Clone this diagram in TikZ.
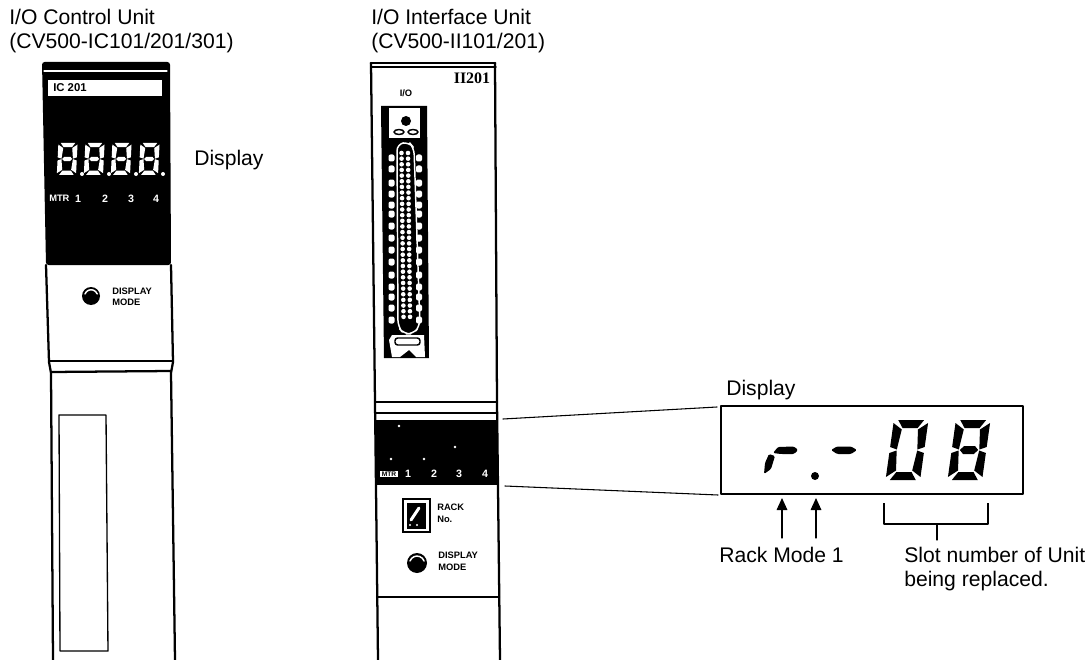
\documentclass[tikz,border=0pt]{standalone}
\usepackage{fontspec}
\setmainfont{Liberation Sans}
\newfontfamily\tagfont{Liberation Serif}
\usetikzlibrary{arrows.meta}
\def\pxsz{0.75pt}
\tikzset{
  caption/.style={anchor=base west, inner sep=0pt, font=\fontsize{15.85}{19}\selectfont},
  tiny label/.style={anchor=base west, inner sep=0pt, font=\fontsize{7}{8}\selectfont\bfseries},
  wall/.style={line width=1.7pt},
  thin wall/.style={line width=1.1pt},
  leader/.style={line width=0.8pt},
  pointer/.style={line width=0.8pt, -{Triangle[length=9pt,width=8pt]}},
}
% segments of one display digit, 30 wide and 60 high
\newcommand{\segA}{(3,0) -- (27,0) -- (22,8) -- (8,8) -- cycle}
\newcommand{\segB}{(31,3) -- (31,27) -- (24.5,29.5) -- (22.5,9.5) -- cycle}
\newcommand{\segC}{(31,33) -- (31,57) -- (22.5,50.5) -- (24.5,30.5) -- cycle}
\newcommand{\segD}{(3,60) -- (27,60) -- (22,52) -- (8,52) -- cycle}
\newcommand{\segE}{(-1,33) -- (-1,57) -- (7.5,50.5) -- (5.5,30.5) -- cycle}
\newcommand{\segF}{(-1,3) -- (-1,27) -- (5.5,29.5) -- (7.5,9.5) -- cycle}
\newcommand{\segG}{(6.5,30) -- (10,26) -- (20,26) -- (23.5,30) -- (20,34) -- (10,34) -- cycle}
\begin{document}
\begin{tikzpicture}[x=\pxsz, y=-\pxsz]
\useasboundingbox (0,0) rectangle (1090,660);
\begin{scope}[line cap=round, line join=round]
  % Captions
  \node[caption] (ctlname) at (9,25) {I/O Control Unit};
  \node[caption] (ctlcode) at (9,49) {(CV500-IC101/201/301)};
  \node[caption] (ifname) at (371,25) {I/O Interface Unit};
  \node[caption] (ifcode) at (371,49) {(CV500-II101/201)};
  \node[caption] (ctldisp) at (194,166) {Display};
  % Control unit
  \fill[black, rounded corners=2pt] (42,62) -- (170,62) -- (171,265) -- (46,265) -- cycle;
  \draw[white, line width=0.8pt] (44,71) -- (167,71);
  \fill[white] (48,80) rectangle (162,96);
  \node[tiny label, font=\fontsize{8.5}{9}\selectfont\bfseries] (ctltag) at (53,92) {IC 201};
  \foreach \xd in {59,86,113,141} {
    \begin{scope}[shift={(\xd,143)}, x=0.6*\pxsz, y=-0.53*\pxsz, xslant=0.05]
      \foreach \sg in {\segA,\segB,\segC,\segD,\segE,\segF,\segG}
        \fill[white] \sg;
    \end{scope}
  }
  \foreach \xd in {82,109,136,163}
    \fill[white] (\xd,174) circle (2);
  \node[tiny label, white] (ctlmtr) at (49,201) {MTR};
  \foreach \xd/\nm in {78/1,105/2,131/3,156/4}
    \node[tiny label, white, anchor=base, font=\fontsize{8}{9}\selectfont\bfseries] (ctl\nm) at (\xd,202) {\nm};
  \draw[wall] (46,265) -- (49,362) -- (51,373) -- (53,660);
  \draw[wall] (171,265) -- (173,362) -- (171,373) -- (175,660);
  \draw[thin wall] (49,361) -- (173,361);
  \draw[wall] (51,372) -- (171,371);
  \fill[black] (91,296) circle (9);
  \draw[white, line width=1.1pt] (85,294) arc[start angle=200, end angle=340, radius=6.5];
  \node[tiny label] (ctldisplay) at (112,294) {DISPLAY};
  \node[tiny label] (ctlmode) at (112,305) {MODE};
  \draw[line width=1pt] (59,415) -- (106,415) -- (108,651) -- (60,651) -- cycle;
  % Interface unit
  \draw[line width=2.2pt] (371,63) -- (495,63);
  \draw[thin wall] (372,67) -- (496,67);
  \draw[wall] (371,63) -- (375,402) -- (378,660);
  \draw[wall] (495,63) -- (497,402) -- (500,660);
  \node[anchor=center, inner sep=0pt, font=\fontsize{12}{13}\selectfont\tagfont\bfseries] (iftag) at (472,78) {II201};
  \node[tiny label, anchor=center] (ifio) at (406,93) {I/O};
  % Connector
  \fill[black] (381,106) -- (427,106) -- (429,358) -- (384,358) -- cycle;
  \fill[white] (389,108) rectangle (420,138);
  \fill[black] (406,121) circle (5);
  \draw[line width=1.1pt] (399,132) ellipse (5 and 2.5);
  \draw[line width=1.1pt] (413,132) ellipse (5 and 2.5);
  \fill[white] (389,340) -- (392,335) -- (424,335) -- (425,357) -- (416,357) -- (409,350) -- (400,357) -- (392,357) -- cycle;
  \draw[line width=1.1pt, rounded corners=2pt] (395,338) rectangle (420,345);
  \foreach \yh in {158,169,183,194,205,214,226,238,250,262,275,287,297,308,320} {
    \fill[white, rounded corners=1.5pt] (388.5,\yh-3.5) rectangle (394.5,\yh+3.5);
    \fill[white, rounded corners=1.5pt] (416,\yh-3.5) rectangle (422,\yh+3.5);
  }
  \draw[white, line width=1.1pt, rounded corners=5pt] (397,144) -- (409,142) -- (414,148) -- (420,326) -- (413,334) -- (404,334) -- (398,327) -- cycle;
  \foreach \yp in {0,...,29} {
    \fill[white] (401.5+\yp*0.07,153+\yp*5.65) circle (2.3);
    \fill[white] (408+\yp*0.07,153+\yp*5.65) circle (2.3);
  }
  % Interface unit, display part
  \draw[wall] (375,402) -- (497,402);
  \draw[wall] (375,413) -- (497,413);
  \fill[black] (375,420) rectangle (498,485);
  \foreach \xd/\yd in {399/426,455/447,424/459,391/459}
    \fill[white] (\xd,\yd) circle (1.3);
  \node[tiny label, fill=white, inner xsep=1pt, inner ysep=0.5pt, anchor=center, font=\fontsize{5}{6}\selectfont\bfseries] (ifmtr) at (389,474) {MTR};
  \foreach \xd/\nm in {408/1,434/2,459/3,485/4}
    \node[tiny label, white, anchor=center, font=\fontsize{8}{9}\selectfont\bfseries] (if\nm) at (\xd,474) {\nm};
  \fill[black] (402,498) rectangle (431,533);
  \fill[white] (404,500) rectangle (429,531);
  \fill[black] (407,503) rectangle (426,529);
  \draw[white, line width=2.2pt] (411,520) -- (419,508);
  \fill[white] (410,525) circle (1.2);
  \fill[white] (417,525) circle (1.2);
  \node[tiny label] (ifrack) at (437,510) {RACK};
  \node[tiny label] (ifno) at (437,522) {No.};
  \fill[black] (417,563) circle (10);
  \draw[white, line width=1.1pt] (410,561) arc[start angle=200, end angle=340, radius=7.5];
  \node[tiny label] (ifdisplay) at (438,558) {DISPLAY};
  \node[tiny label] (ifmode) at (438,570) {MODE};
  \draw[wall] (377,597) -- (499,597);
  % Enlarged display
  \node[draw, line width=0.8pt, inner sep=0pt, minimum width=226.5pt, minimum height=66pt] (dispbox) at (872,450) {};
  \node[caption] (disptitle) at (726,395) {Display};
  \coordinate (upfrom) at (503,419);
  \coordinate (upto) at (717,407);
  \coordinate (lowfrom) at (505,486);
  \coordinate (lowto) at (718,495);
  \draw[leader] (upfrom) -- (upto);
  \draw[leader] (lowfrom) -- (lowto);
  \fill[rounded corners=1pt] (773,453) -- (778,447) -- (794,446.5) -- (798,450) -- (794,454) -- (781,454) -- cycle;
  \fill[rounded corners=1pt] (769,454) -- (775,456) -- (771,469) -- (764,474) -- (765,463) -- cycle;
  \fill (815,476) circle (4);
  \fill[rounded corners=1pt] (831,450) -- (837,446.5) -- (851,446.5) -- (857,450) -- (851,454) -- (837,454) -- cycle;
  \foreach \xd in {895,957} {
    \begin{scope}[shift={(\xd,420)}, xslant=0.14, x=1.08*\pxsz]
      \foreach \sg in {\segA,\segB,\segC,\segD,\segE,\segF}
        \fill \sg;
    \end{scope}
  }
  \begin{scope}[shift={(957,420)}, xslant=0.14, x=1.08*\pxsz]
    \fill \segG;
  \end{scope}
  % Labels and pointers
  \node[caption] (racklabel) at (719,562) {Rack Mode 1};
  \node[caption] (slotlabel) at (904,562) {Slot number of Unit};
  \node[caption] (slotlabelb) at (904,586) {being replaced.};
  \coordinate (arrowa) at (782,498);
  \coordinate (arrowb) at (816,498);
  \coordinate (taila) at (782,538);
  \coordinate (tailb) at (816,538);
  \draw[pointer] (taila) -- (arrowa);
  \draw[pointer] (tailb) -- (arrowb);
  \coordinate (brla) at (884,503);
  \coordinate (brlb) at (884,524);
  \coordinate (brra) at (988,524);
  \coordinate (brrb) at (988,503);
  \coordinate (brmid) at (937,524);
  \coordinate (brend) at (937,540);
  \draw[leader, line cap=butt] (brla) -- (brlb) -- (brra) -- (brrb);
  \draw[leader] (brmid) -- (brend);
\end{scope}
\end{tikzpicture}
\end{document}
